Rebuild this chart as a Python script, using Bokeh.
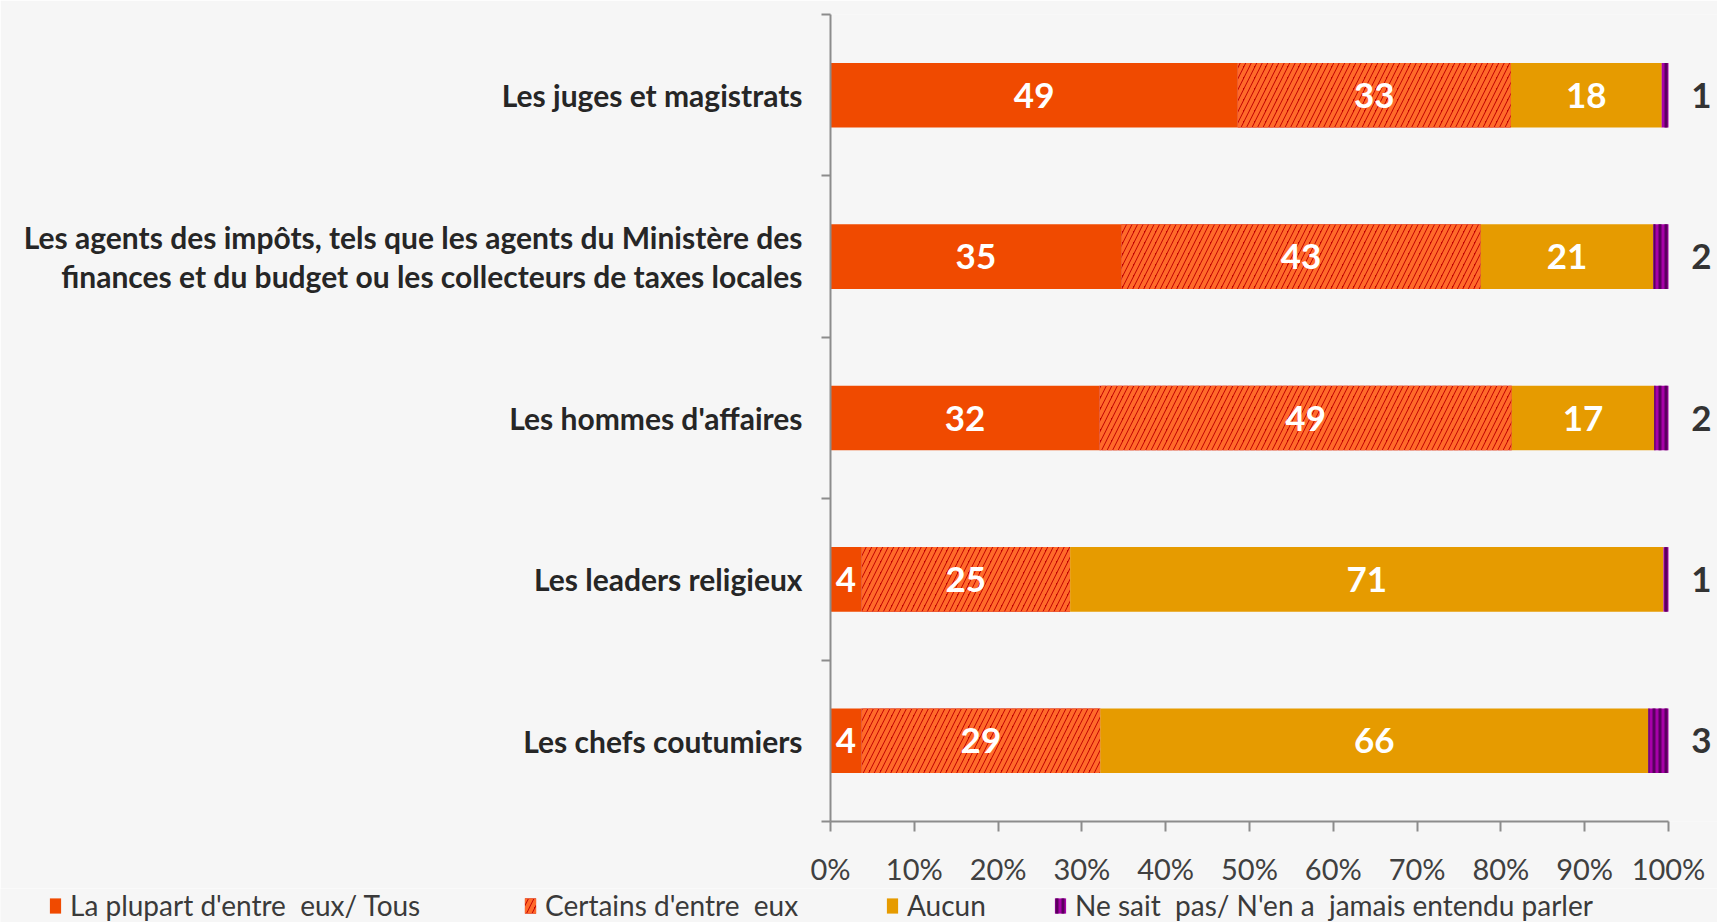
import numpy as np
from bokeh.plotting import figure
from bokeh.models import ColumnDataSource, FixedTicker, Legend, LegendItem, Range1d
from bokeh.core.properties import value
from bokeh.embed import file_html
from bokeh.resources import INLINE

categories = [
    "Les juges et magistrats",
    "Les agents des impôts, tels que les agents du Ministère des\nfinances et du budget ou les collecteurs de taxes locales",
    "Les hommes d'affaires",
    "Les leaders religieux",
    "Les chefs coutumiers",
]
series_names = [
    "La plupart d'entre  eux/ Tous",
    "Certains d'entre  eux",
    "Aucun",
    "Ne sait  pas/ N'en a  jamais entendu parler",
]
plupart = [48.6, 34.7, 32.1, 3.7, 3.7]
certains = [32.6, 42.9, 49.2, 24.9, 28.5]
aucun = [18.0, 20.6, 17.0, 70.8, 65.4]
nsp = [0.8, 1.8, 1.7, 0.6, 2.4]
plupart_labels = ["49", "35", "32", "4", "4"]
certains_labels = ["33", "43", "49", "25", "29"]
aucun_labels = ["18", "21", "17", "71", "66"]
nsp_labels = ["1", "2", "2", "1", "3"]
x_ticks = [0, 10, 20, 30, 40, 50, 60, 70, 80, 90, 100]
x_tick_labels = ["0%", "10%", "20%", "30%", "40%", "50%", "60%", "70%", "80%", "90%", "100%"]

n = len(categories)
ypos = [n - 0.5 - i for i in range(n)]

vals = np.array([plupart, certains, aucun, nsp], dtype=float)
rights = np.cumsum(vals, axis=0)
lefts = rights - vals
labels = [plupart_labels, certains_labels, aucun_labels, nsp_labels]

styles = [
    dict(fill_color="#F04A00"),
    dict(fill_color="#C00000", hatch_pattern="/", hatch_color="#FF6A2A", hatch_scale=11, hatch_weight=4),
    dict(fill_color="#E69B00"),
    dict(fill_color="#A800A8", hatch_pattern="|", hatch_color="#5A005E", hatch_scale=6, hatch_weight=3),
]

BG = "#F6F6F6"
p = figure(width=1717, height=888, x_range=Range1d(0, 105.85), y_range=Range1d(0, n),
           output_backend="svg", toolbar_location=None,
           min_border_left=830, min_border_right=0, min_border_top=14, min_border_bottom=64)
p.background_fill_color = BG
p.border_fill_color = BG
p.outline_line_color = None
p.xgrid.visible = False
p.ygrid.visible = False

for k in range(4):
    src = ColumnDataSource(dict(y=ypos, left=lefts[k], right=rights[k],
                                mid=(lefts[k] + rights[k]) / 2, lab=labels[k]))
    p.hbar(y="y", left="left", right="right", height=0.4, source=src,
           line_color=None, **styles[k])
    if k < 3:
        p.text(x="mid", y="y", text="lab", source=src, text_align="center",
               text_baseline="middle", text_color="white", text_font=value("Lato"),
               text_font_style="bold", text_font_size="35px")
    else:
        p.text(x="right", y="y", text="lab", source=src, x_offset=33, text_align="center",
               text_baseline="middle", text_color="#333333", text_font=value("Lato"),
               text_font_style="bold", text_font_size="35px")

AX = "#8C8C8C"
xa = p.xaxis[0]
xa.ticker = FixedTicker(ticks=x_ticks)
xa.bounds = (0, 100)
xa.major_label_overrides = {float(t): l for t, l in zip(x_ticks, x_tick_labels)}
xa.axis_line_color = AX
xa.axis_line_width = 2
xa.major_tick_line_color = AX
xa.major_tick_line_width = 2
xa.major_tick_out = 10
xa.major_tick_in = 0
xa.minor_tick_line_color = None
xa.major_label_standoff = 19
xa.major_label_text_font = "Lato"
xa.major_label_text_font_size = "29px"
xa.major_label_text_color = "#404040"

ya = p.yaxis[0]
ya.ticker = FixedTicker(ticks=ypos, minor_ticks=list(range(n + 1)))
ya.major_label_overrides = {float(y): c for y, c in zip(ypos, categories)}
ya.axis_line_color = AX
ya.axis_line_width = 2
ya.major_tick_line_color = None
ya.major_tick_out = 0
ya.major_tick_in = 0
ya.minor_tick_line_color = AX
ya.minor_tick_line_width = 2
ya.minor_tick_out = 9
ya.minor_tick_in = 0
ya.major_label_standoff = 19
ya.major_label_text_font = "Lato"
ya.major_label_text_font_style = "bold"
ya.major_label_text_font_size = "30px"
ya.major_label_text_line_height = 1.1
ya.major_label_text_color = "#262626"

# legend strip (separate root so it is not frame-aligned with the chart)
p2 = figure(width=1717, height=34, x_range=Range1d(0, 1), y_range=Range1d(0, 1),
            output_backend="svg", toolbar_location=None, min_border=0)
p2.axis.visible = False
p2.grid.visible = False
p2.outline_line_color = None
p2.background_fill_color = BG
p2.border_fill_color = BG
dummies = [p2.hbar(y=[10], left=[5], right=[6], height=0.4, line_color=None, **styles[k])
           for k in range(4)]
legend_x = [48, 523, 885, 1053]
for nm, r, lx in zip(series_names, dummies, legend_x):
    lg = Legend(items=[LegendItem(label=nm, renderers=[r])],
                location=(lx, 0), orientation="horizontal", glyph_width=14, glyph_height=19,
                label_standoff=8, padding=0, margin=0, border_line_color=None,
                background_fill_alpha=0, label_text_font="Lato", label_text_font_size="28px",
                label_text_color="#3A3A3A")
    p2.add_layout(lg)

open("out.html", "w").write(file_html([p, p2], INLINE))
